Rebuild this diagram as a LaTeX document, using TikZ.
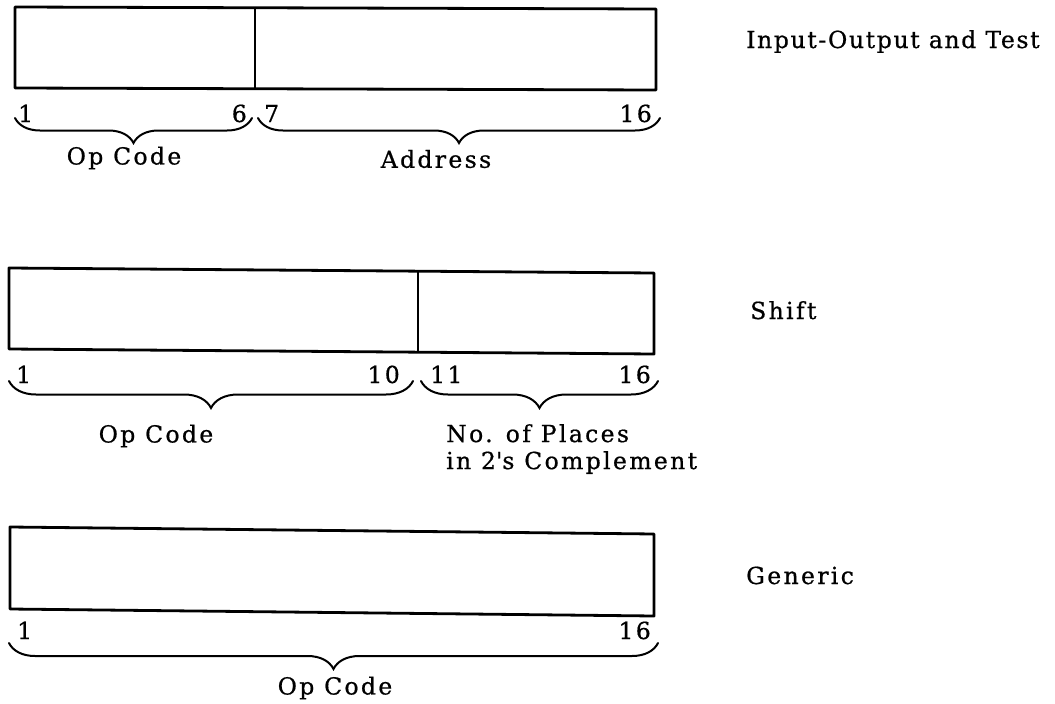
\documentclass[tikz,border=0pt]{standalone}
\usepackage{fontspec}
\setmainfont{DejaVu Serif}[LetterSpace=10, FakeBold=0.7]
\usetikzlibrary{decorations.pathreplacing}

\begin{document}
\begin{tikzpicture}[x=1pt,y=-1pt,
  field/.style={draw, line width=2.8pt, line join=round},
  divider/.style={draw, line width=1.8pt},
  bitbrace/.style={draw, decorate, line width=2pt, line cap=round,
    decoration={brace, mirror, amplitude=#1}},
  bitbrace/.default=26pt,
  txt/.style={font=\fontsize{23.5}{27}\selectfont, inner sep=0pt},
  kind/.style={txt, anchor=base west},
]
\useasboundingbox (0,0) rectangle (1055,704);

% ---- Input-Output and Test: op code 1-6, address 7-16
\coordinate (a-tl) at (15,7);   \coordinate (a-tr) at (656,9);
\coordinate (a-br) at (656,90); \coordinate (a-bl) at (15,88);
\coordinate (a-dt) at (255,8);  \coordinate (a-db) at (255,89);
\draw[field] (a-tl) -- (a-tr) -- (a-br) -- (a-bl) -- cycle;
\draw[divider] (a-dt) -- (a-db);
\node[txt, anchor=base west] (a-b1)  at (18,122)  {1};
\node[txt, anchor=base east] (a-b6)  at (247,122) {6};
\node[txt, anchor=base west] (a-b7)  at (264,122) {7};
\node[txt, anchor=base east] (a-b16) at (652,122) {16};
\coordinate (a-l1) at (15,118);  \coordinate (a-l2) at (252,118);
\coordinate (a-r1) at (258,118); \coordinate (a-r2) at (660,118);
\draw[bitbrace=25pt] (a-l1) -- (a-l2);
\draw[bitbrace=25pt] (a-r1) -- (a-r2);
\node[txt] (a-op)   at (124,158) {Op Code};
\node[txt] (a-addr) at (436,159) {Address};
\node[kind] (a-name) at (746,48) {\addfontfeature{LetterSpace=7}Input-Output and Test};

% ---- Shift: op code 1-10, count 11-16
\coordinate (b-tl) at (9,268);   \coordinate (b-tr) at (654,273);
\coordinate (b-br) at (654,354); \coordinate (b-bl) at (9,349);
\coordinate (b-dt) at (418,271); \coordinate (b-db) at (418,352);
\draw[field] (b-tl) -- (b-tr) -- (b-br) -- (b-bl) -- cycle;
\draw[divider] (b-dt) -- (b-db);
\node[txt, anchor=base west] (b-b1)  at (16,383)  {1};
\node[txt, anchor=base east] (b-b10) at (400,383) {10};
\node[txt, anchor=base west] (b-b11) at (430,383) {11};
\node[txt, anchor=base east] (b-b16) at (651,383) {16};
\coordinate (b-l1) at (9,381);   \coordinate (b-l2) at (413,381);
\coordinate (b-r1) at (421,381); \coordinate (b-r2) at (658,381);
\draw[bitbrace=27pt] (b-l1) -- (b-l2);
\draw[bitbrace=27pt] (b-r1) -- (b-r2);
\node[txt] (b-op) at (156,436) {Op Code};
\node[txt, anchor=north west, align=left] (b-cnt) at (446,424)
  {No. of Places\\in 2\textquotesingle s Complement};
\node[kind] (b-name) at (750,319) {Shift};

% ---- Generic: op code 1-16
\coordinate (c-tl) at (10,527);  \coordinate (c-tr) at (654,534);
\coordinate (c-br) at (654,616); \coordinate (c-bl) at (10,609);
\draw[field] (c-tl) -- (c-tr) -- (c-br) -- (c-bl) -- cycle;
\node[txt, anchor=base west] (c-b1)  at (17,639)  {1};
\node[txt, anchor=base east] (c-b16) at (651,639) {16};
\coordinate (c-l1) at (9,643); \coordinate (c-l2) at (658,643);
\draw[bitbrace] (c-l1) -- (c-l2);
\node[txt] (c-op) at (335,688) {Op Code};
\node[kind] (c-name) at (746,584) {Generic};
\end{tikzpicture}
\end{document}
